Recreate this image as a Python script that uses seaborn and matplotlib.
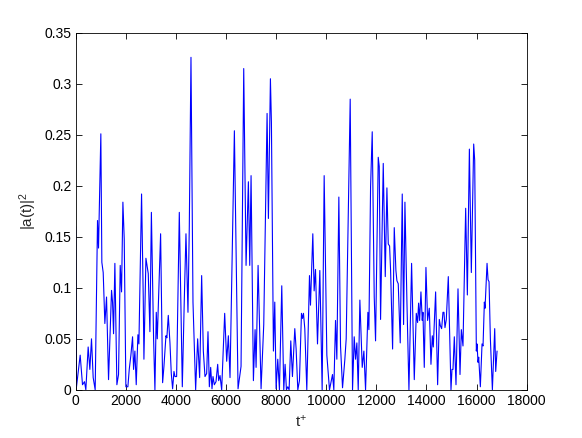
import matplotlib
matplotlib.use("Agg")
import matplotlib.pyplot as plt
import seaborn as sns
import numpy as np
import pandas as pd

# time samples (t+) and |a(t)|^2 values
t_plus = [
    0, 33, 180, 273, 353, 406, 499, 566, 632, 699, 779, 872, 912, 1005, 1045, 1099,
    1165, 1232, 1312, 1432, 1472, 1512, 1565, 1645, 1711, 1778, 1831, 1885, 1938,
    2004, 2084, 2138, 2204, 2271, 2311, 2364, 2417, 2484, 2524, 2630, 2697, 2724,
    2804, 2897, 2963, 3022, 3110, 3163, 3217, 3257, 3390, 3470, 3523, 3603, 3640,
    3696, 3763, 3816, 3869, 3923, 3963, 4029, 4136, 4256, 4336, 4402, 4482, 4535,
    4602, 4682, 4788, 4868, 4948, 5028, 5095, 5161, 5228, 5281, 5335, 5388, 5441,
    5481, 5534, 5601, 5668, 5707, 5761, 5827, 5947, 6027, 6094, 6160, 6334, 6480,
    6600, 6707, 6800, 6893, 6947, 7000, 7093, 7160, 7200, 7280, 7399, 7506, 7639,
    7692, 7772, 7812, 7892, 7946, 7999, 8065, 8132, 8225, 8305, 8358, 8412, 8465,
    8518, 8585, 8651, 8745, 8798, 8865, 8931, 9011, 9051, 9091, 9144, 9224, 9331,
    9371, 9464, 9517, 9571, 9651, 9744, 9837, 9917, 10024, 10130, 10250, 10303,
    10370, 10423, 10503, 10570, 10650, 10743, 10796, 10956, 11049, 11116, 11169,
    11222, 11276, 11342, 11436, 11502, 11569, 11662, 11702, 11769, 11835, 11915,
    11968, 12075, 12115, 12168, 12275, 12355, 12421, 12475, 12528, 12568, 12648,
    12714, 12780, 12820, 12873, 12953, 13033, 13086, 13140, 13220, 13300, 13406,
    13513, 13593, 13646, 13686, 13726, 13779, 13832, 13859, 13912, 13979, 14045,
    14112, 14179, 14232, 14272, 14365, 14445, 14512, 14552, 14605, 14658, 14698,
    14738, 14791, 14871, 14978, 15018, 15058, 15111, 15178, 15258, 15338, 15391,
    15457, 15564, 15631, 15712, 15790, 15884, 15924, 15990, 16017, 16057, 16084,
    16150, 16217, 16257, 16310, 16337, 16417, 16457, 16497, 16550, 16630, 16723,
    16763, 16816,
]
a_sq = [
    0.160, 0.003, 0.034, 0.005, 0.008, 0.000, 0.042, 0.020, 0.050, 0.012, 0.000,
    0.166, 0.139, 0.251, 0.125, 0.115, 0.065, 0.091, 0.010, 0.0975, 0.086, 0.055,
    0.124, 0.005, 0.015, 0.122, 0.096, 0.184, 0.148, 0.003, 0.003, 0.020, 0.034,
    0.052, 0.020, 0.038, 0.005, 0.054, 0.045, 0.192, 0.091, 0.030, 0.129, 0.114,
    0.057, 0.174, 0.050, 0.000, 0.076, 0.050, 0.153, 0.007, 0.023, 0.053, 0.051,
    0.073, 0.046, 0.016, 0.001, 0.018, 0.013, 0.013, 0.174, 0.003, 0.089, 0.153,
    0.076, 0.160, 0.326, 0.086, 0.000, 0.050, 0.012, 0.112, 0.038, 0.013, 0.016,
    0.057, 0.003, 0.022, 0.001, 0.013, 0.005, 0.008, 0.025, 0.009, 0.014, 0.000,
    0.075, 0.028, 0.053, 0.012, 0.254, 0.001, 0.023, 0.315, 0.122, 0.204, 0.122,
    0.210, 0.009, 0.059, 0.022, 0.122, 0.001, 0.064, 0.271, 0.168, 0.305, 0.262,
    0.038, 0.086, 0.001, 0.030, 0.000, 0.102, 0.000, 0.025, 0.000, 0.003, 0.000,
    0.048, 0.013, 0.060, 0.040, 0.000, 0.009, 0.075, 0.070, 0.075, 0.060, 0.000,
    0.112, 0.083, 0.153, 0.097, 0.118, 0.045, 0.117, 0.000, 0.210, 0.034, 0.000,
    0.015, 0.000, 0.068, 0.030, 0.189, 0.043, 0.002, 0.030, 0.050, 0.285, 0.000,
    0.052, 0.030, 0.046, 0.000, 0.088, 0.022, 0.038, 0.000, 0.076, 0.059, 0.199,
    0.253, 0.091, 0.048, 0.228, 0.219, 0.069, 0.222, 0.111, 0.198, 0.143, 0.141,
    0.117, 0.040, 0.159, 0.117, 0.107, 0.104, 0.046, 0.192, 0.064, 0.184, 0.086,
    0.000, 0.124, 0.010, 0.075, 0.066, 0.085, 0.068, 0.096, 0.068, 0.076, 0.022,
    0.120, 0.068, 0.080, 0.025, 0.053, 0.042, 0.096, 0.005, 0.069, 0.063, 0.060,
    0.076, 0.076, 0.061, 0.069, 0.111, 0.000, 0.020, 0.020, 0.052, 0.005, 0.099,
    0.015, 0.059, 0.043, 0.178, 0.093, 0.236, 0.115, 0.241, 0.225, 0.038, 0.045,
    0.027, 0.032, 0.003, 0.045, 0.043, 0.086, 0.080, 0.124, 0.108, 0.106, 0.050,
    0.000, 0.060, 0.018, 0.038,
]
x_ticks = [0, 2000, 4000, 6000, 8000, 10000, 12000, 14000, 16000, 18000]
y_ticks = [0, 0.05, 0.1, 0.15, 0.2, 0.25, 0.3, 0.35]
y_tick_labels = ["0", "0.05", "0.1", "0.15", "0.2", "0.25", "0.3", "0.35"]

sns.set_style("ticks")
plt.rcParams["font.family"] = ["Liberation Sans", "DejaVu Sans"]
plt.rcParams["mathtext.fontset"] = "custom"
plt.rcParams["mathtext.rm"] = "Liberation Sans"
plt.rcParams["mathtext.it"] = "Liberation Sans"

df = pd.DataFrame({"t": t_plus, "a": a_sq})

fig = plt.figure(figsize=(5.82, 4.38), dpi=100)
ax = fig.add_axes([0.13, 0.11, 0.775, 0.815])
sns.lineplot(data=df, x="t", y="a", ax=ax, color="#0000ff", lw=0.8,
             sort=False, estimator=None)

ax.set_xlim(0, 18000)
ax.set_ylim(0, 0.35)
ax.set_xticks(x_ticks)
ax.set_xticklabels([str(v) for v in x_ticks])
ax.set_yticks(y_ticks)
ax.set_yticklabels(y_tick_labels)
ax.tick_params(direction="in", top=True, right=True, length=4, width=0.6,
               labelsize=10, colors="black", pad=3)
for s in ax.spines.values():
    s.set_visible(True)
    s.set_linewidth(0.6)
    s.set_color("black")
ax.set_xlabel(r"t$^{+}$", fontsize=11)
ax.set_ylabel(r"|a(t)|$^{2}$", fontsize=11)
ax.grid(False)

fig.savefig("out.png", dpi=100)
